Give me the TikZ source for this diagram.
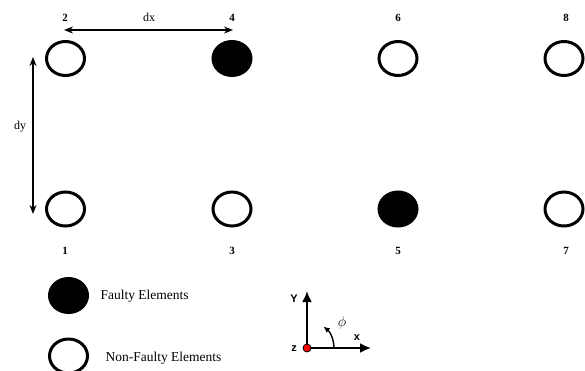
\documentclass[tikz,border=0pt]{standalone}
\usepackage{fontspec}
\setmainfont{Liberation Serif}
\newfontfamily\axfont{Liberation Sans}
\usetikzlibrary{shapes.geometric,arrows.meta}
\begin{document}
\begin{tikzpicture}[x=1pt,y=-1pt,
  elem/.style={ellipse,draw,line width=3pt,minimum width=38pt,minimum height=34pt,inner sep=0pt},
  faulty/.style={elem,fill=black},
  okelem/.style={elem,fill=white},
  num/.style={font=\fontsize{11}{12}\selectfont\bfseries},
  dim/.style={line width=1.5pt,{Stealth[length=9pt,width=7pt]}-{Stealth[length=9pt,width=7pt]}},
  axis/.style={line width=2pt,-{Latex[length=11pt,width=10pt]}},
  axlab/.style={font=\axfont\fontsize{11}{12}\selectfont\bfseries},
  leg/.style={font=\fontsize{13.5}{15}\selectfont,anchor=west}]
\useasboundingbox (0,0) rectangle (585,370);
% top row
\node[okelem] (e2) at (65.5,58.5) {};
\node[faulty] (e4) at (232,58.5) {};
\node[okelem] (e6) at (398,58.5) {};
\node[okelem] (e8) at (564,58.5) {};
% bottom row
\node[okelem] (e1) at (65.5,209) {};
\node[okelem] (e3) at (232,209) {};
\node[faulty] (e5) at (398,209) {};
\node[okelem] (e7) at (564,209) {};
% numbers
\node[num] (n2) at (65,18) {2};
\node[num] (n4) at (232,18) {4};
\node[num] (n6) at (398,18) {6};
\node[num] (n8) at (566,18) {8};
\node[num] (n1) at (65,251) {1};
\node[num] (n3) at (232,251) {3};
\node[num] (n5) at (398,251) {5};
\node[num] (n7) at (566,251) {7};
% dimensions
\coordinate (dxa) at (64,30);
\coordinate (dxb) at (233,30);
\draw[dim] (dxa) -- (dxb);
\node[font=\fontsize{12}{13}\selectfont] (dx) at (149,17) {dx};
\coordinate (dya) at (33,57);
\coordinate (dyb) at (33,214);
\draw[dim] (dya) -- (dyb);
\node[font=\fontsize{12}{13}\selectfont] (dy) at (20,127) {dy};
% legend
\node[faulty] (lf) at (68.5,295.5) {};
\node[leg] (lft) at (97,296) {Faulty Elements};
\node[okelem] (lo) at (68.5,356) {};
\node[leg] (lot) at (102,358) {Non-Faulty Elements};
% axes
\coordinate (O) at (307,348);
\coordinate (Yend) at (307,291);
\coordinate (Xend) at (371,348);
\draw[axis] (O) -- (Yend);
\draw[axis] (O) -- (Xend);
\draw[line width=1.4pt,-{Latex[length=6pt,width=6pt]}] (O) ++(27,0) arc[start angle=0,end angle=-52,radius=27];
\node[circle,draw=black,fill=red,line width=0.8pt,minimum size=8pt,inner sep=0pt] (Od) at (O) {};
\node[axlab] (ly) at (294,299) {Y};
\node[axlab] (lz) at (294,349) {z};
\node[axlab] (lx) at (357,338) {x};
\node[font=\fontsize{14}{16}\selectfont] (phi) at (342,323) {$\phi$};
\end{tikzpicture}
\end{document}
